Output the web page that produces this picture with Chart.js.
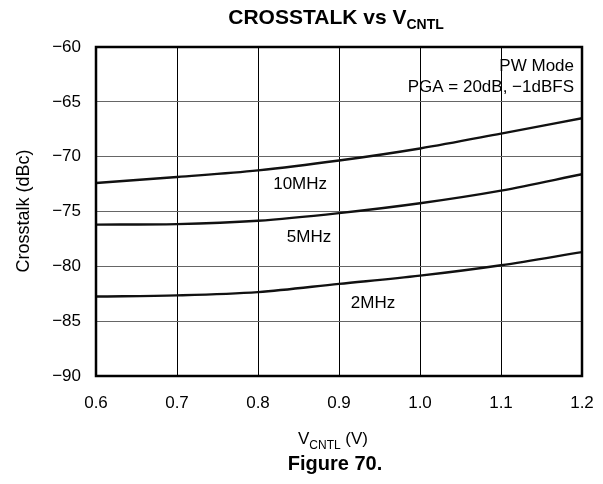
<!DOCTYPE html>
<html><head><meta charset="utf-8">
<script src="https://cdn.jsdelivr.net/npm/chart.js@4/dist/chart.umd.min.js"></script>
<style>html,body{margin:0;padding:0;background:#fff}#wrap{width:603px;height:484px;position:relative}</style>
</head><body><div id="wrap"><canvas id="c" width="603" height="484"></canvas></div>
<script>
const vcntl = [0.6, 0.7, 0.8, 0.9, 1.0, 1.1, 1.2];
const xt10MHz = [-72.4, -71.85, -71.25, -70.35, -69.25, -67.9, -66.5];
const xt5MHz = [-76.2, -76.15, -75.85, -75.15, -74.25, -73.1, -71.6];
const xt2MHz = [-82.75, -82.65, -82.35, -81.6, -80.85, -79.9, -78.7];
const yTicks = [-90, -85, -80, -75, -70, -65, -60];
const seriesLabels = ['10MHz', '5MHz', '2MHz'];
const labelPos = [[0.852, -72.52], [0.863, -77.36], [0.942, -83.34]];
const FONT = '"Liberation Sans", Arial, sans-serif';

function pts(arr){ return vcntl.map((x,i)=>({x:x,y:arr[i]})); }

const annot = {
  id:'annot',
  afterDraw(chart){
    const ctx = chart.ctx, a = chart.chartArea, xs = chart.scales.x, ys = chart.scales.y;
    ctx.save();
    ctx.strokeStyle = '#000'; ctx.lineWidth = 2.5;
    ctx.strokeRect(a.left, a.top, a.right - a.left, a.bottom - a.top);
    ctx.fillStyle = '#000';
    ctx.font = '17px ' + FONT; ctx.textAlign = 'center'; ctx.textBaseline = 'middle';
    seriesLabels.forEach((t,i)=>{
      ctx.fillText(t, xs.getPixelForValue(labelPos[i][0]), ys.getPixelForValue(labelPos[i][1]));
    });
    ctx.textAlign = 'right';
    ctx.fillText('PW Mode', 574, 66);
    ctx.fillText('PGA = 20dB, \u22121dBFS', 574, 87);
    function sub(cx, main, subt, y, bold, size, subsize, dy, tail){
      const f1 = (bold?'bold ':'') + size + 'px ' + FONT;
      const f2 = (bold?'bold ':'') + subsize + 'px ' + FONT;
      ctx.font = f1; const w1 = ctx.measureText(main).width;
      ctx.font = f2; const w2 = ctx.measureText(subt).width;
      ctx.font = f1; const w3 = tail ? ctx.measureText(tail).width : 0;
      let x = cx - (w1 + w2 + w3)/2;
      ctx.textAlign = 'left'; ctx.textBaseline = 'alphabetic';
      ctx.font = f1; ctx.fillText(main, x, y); x += w1;
      ctx.font = f2; ctx.fillText(subt, x, y + dy); x += w2;
      if (tail){ ctx.font = f1; ctx.fillText(tail, x, y); }
    }
    sub(336, 'CROSSTALK vs V', 'CNTL', 24, true, 21, 14, 5, '');
    sub(333, 'V', 'CNTL', 444, false, 17, 12, 5, ' (V)');
    ctx.font = 'bold 20px ' + FONT; ctx.textAlign = 'center'; ctx.textBaseline = 'alphabetic';
    ctx.fillText('Figure 70.', 335, 470);
    ctx.save();
    ctx.translate(24, 211); ctx.rotate(-Math.PI/2);
    ctx.font = '18px ' + FONT; ctx.textAlign = 'center'; ctx.textBaseline = 'middle';
    ctx.fillText('Crosstalk (dBc)', 0, 0);
    ctx.restore();
    ctx.restore();
  }
};

const ds = (label, arr) => ({label, data: pts(arr), borderColor:'#111', borderWidth:2.4, pointRadius:0, fill:false, cubicInterpolationMode:'monotone'});

new Chart(document.getElementById('c'), {
  type:'line',
  data:{ datasets:[ds('10MHz', xt10MHz), ds('5MHz', xt5MHz), ds('2MHz', xt2MHz)] },
  plugins:[annot],
  options:{
    responsive:false, animation:false, devicePixelRatio:1,
    layout:{ padding:{ left:0, top:47, right:21, bottom:0 } },
    plugins:{ legend:{display:false}, tooltip:{enabled:false} },
    scales:{
      x:{ type:'linear', min:0.6, max:1.2,
        afterFit(s){ s.height = 108; s.paddingLeft = 0; s.paddingRight = 0; },
        afterBuildTicks(s){ s.ticks = vcntl.map(v=>({value:v})); },
        ticks:{ color:'#000', font:{family:FONT, size:17}, padding:17,
          callback:(v)=>Number(v).toFixed(1) },
        grid:{ color:'#000', lineWidth:1, drawTicks:false },
        border:{ color:'#000', width:2 } },
      y:{ type:'linear', min:-90, max:-60,
        afterFit(s){ s.width = 96; s.paddingTop = 0; s.paddingBottom = 0; },
        afterBuildTicks(s){ s.ticks = yTicks.map(v=>({value:v})); },
        ticks:{ color:'#000', font:{family:FONT, size:17}, padding:15,
          callback:(v)=> (v<0?'\u2212':'') + Math.abs(v) },
        grid:{ color:'#666', lineWidth:1, drawTicks:false },
        border:{ color:'#000', width:2 } }
    }
  }
});
</script></body></html>
